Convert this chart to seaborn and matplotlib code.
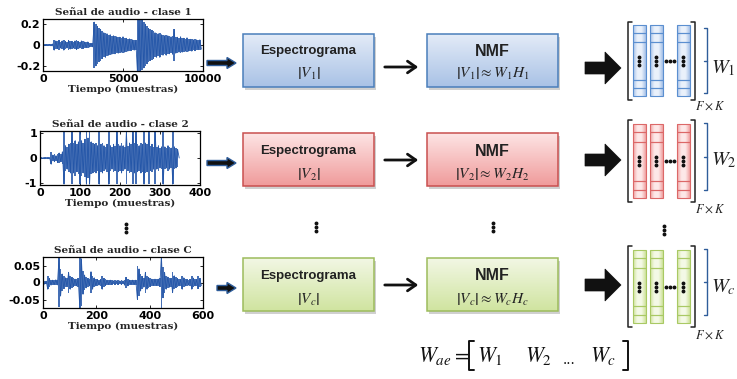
import numpy as np
import matplotlib
matplotlib.use("Agg")
import matplotlib.pyplot as plt
import matplotlib.colors as mcolors
from matplotlib.patches import Rectangle, FancyArrow
import seaborn as sns

sns.set_theme(style="white")
plt.rcParams["font.family"] = ["DejaVu Sans"]
plt.rcParams["mathtext.fontset"] = "stix"

# ---------------------------------------------------------------------------
# Waveform envelopes (peak amplitude per block of samples)
# ---------------------------------------------------------------------------
step1 = 100
amp1 = [0.005, 0.006, 0.005, 0.007, 0.006, 0.008, 0.01, 0.05, 0.04, 0.035,
        0.045, 0.03, 0.04, 0.05, 0.035, 0.03, 0.045, 0.04, 0.035, 0.03,
        0.04, 0.045, 0.035, 0.03, 0.04, 0.035, 0.03, 0.025, 0.03, 0.02,
        0.015, 0.018, 0.22, 0.2, 0.18, 0.16, 0.15, 0.13, 0.12, 0.12,
        0.11, 0.1, 0.1, 0.09, 0.09, 0.085, 0.08, 0.08, 0.075, 0.07,
        0.08, 0.07, 0.065, 0.06, 0.06, 0.055, 0.05, 0.05, 0.045, 0.26,
        0.26, 0.25, 0.24, 0.22, 0.2, 0.18, 0.16, 0.15, 0.14, 0.13,
        0.12, 0.12, 0.11, 0.12, 0.1, 0.1, 0.09, 0.1, 0.09, 0.085,
        0.08, 0.09, 0.15, 0.08, 0.075, 0.07, 0.08, 0.07, 0.065, 0.06,
        0.07, 0.06, 0.055, 0.06, 0.05, 0.055, 0.05, 0.045, 0.05, 0.04]

step2 = 4
amp2 = [0.02, 0.03, 0.02, 0.03, 0.02, 0.03, 0.02, 0.25, 0.12, 0.15,
        0.1, 0.18, 0.2, 0.15, 0.25, 1.05, 0.5, 0.45, 0.55, 0.6,
        1.05, 0.6, 0.7, 0.55, 0.65, 1.05, 0.7, 0.6, 0.75, 1.05,
        0.8, 1.05, 0.65, 0.6, 0.55, 0.6, 0.5, 1.05, 0.55, 0.6,
        0.5, 0.45, 0.55, 1.05, 0.5, 0.45, 0.55, 0.5, 1.05, 0.55,
        0.5, 0.6, 0.5, 0.45, 1.05, 0.5, 0.6, 0.55, 1.05, 0.6,
        1.05, 0.55, 0.5, 0.6, 0.55, 1.05, 0.6, 0.55, 1.05, 0.5,
        0.55, 0.45, 1.05, 0.45, 0.5, 0.4, 0.45, 1.05, 0.45, 0.4,
        0.5, 0.45, 0.4, 1.05, 0.45, 0.4, 0.35, 0.0]

step3 = 6
amp3 = [0.004, 0.005, 0.004, 0.02, 0.012, 0.008, 0.007, 0.006, 0.008, 0.007,
        0.072, 0.04, 0.025, 0.018, 0.014, 0.012, 0.03, 0.02, 0.015, 0.012,
        0.01, 0.01, 0.012, 0.075, 0.07, 0.035, 0.022, 0.016, 0.012, 0.01,
        0.032, 0.02, 0.014, 0.01, 0.009, 0.008, 0.009, 0.02, 0.012, 0.009,
        0.007, 0.006, 0.007, 0.006, 0.005, 0.006, 0.005, 0.006, 0.005, 0.006,
        0.005, 0.008, 0.015, 0.01, 0.007, 0.006, 0.007, 0.006, 0.007, 0.05,
        0.04, 0.025, 0.018, 0.014, 0.03, 0.02, 0.015, 0.012, 0.01, 0.009,
        0.01, 0.009, 0.01, 0.012, 0.08, 0.045, 0.03, 0.02, 0.016, 0.014,
        0.012, 0.03, 0.02, 0.015, 0.012, 0.01, 0.009, 0.02, 0.014, 0.01,
        0.009, 0.008, 0.009, 0.02, 0.013, 0.01, 0.009, 0.018, 0.012, 0.009]

titles = ["Señal de audio - clase 1", "Señal de audio - clase 2",
          "Señal de audio - clase C"]
xlabel_text = "Tiempo (muestras)"
xlims = [(0, 10000), (0, 400), (0, 600)]
xticks = [[0, 5000, 10000], [0, 100, 200, 300, 400], [0, 200, 400, 600]]
ylims = [(-0.25, 0.25), (-1.08, 1.08), (-0.075, 0.075)]
yticks = [[-0.2, 0, 0.2], [-1, 0, 1], [-0.05, 0, 0.05]]
yticklabels = [["-0.2", "0", "0.2"], ["-1", "0", "1"], ["-0.05", "0", "0.05"]]

# class labels used in the formulas
subs = ["1", "2", "c"]

W, H = 737, 379
fig = plt.figure(figsize=(W / 100, H / 100), dpi=100)
fig.patch.set_facecolor("white")

# canvas axes in pixel coordinates for the block diagram
cv = fig.add_axes([0, 0, 1, 1], zorder=0)
cv.set_axis_off()


def fig_rect(left, top, right, bottom):
    return [left / W, 1 - bottom / H, (right - left) / W, (bottom - top) / H]


wave_color = "#2456a8"
wave_boxes = [(43, 19, 203, 71), (40, 131, 200, 185), (43, 257, 203, 308)]
envelopes = [(amp1, step1), (amp2, step2), (amp3, step3)]

for k in range(3):
    ax = fig.add_axes(fig_rect(*wave_boxes[k]), zorder=2)
    amps, step = envelopes[k]
    amps = np.asarray(amps)
    n = len(amps)
    t = np.arange(n) * step
    sign = np.where(np.arange(n) % 2 == 0, 1.0, -1.0)
    # dense oscillation body
    ax.fill_between(t, -amps, amps, step="mid", color=wave_color, alpha=0.85,
                    lw=0)
    sns.lineplot(x=t, y=amps * sign, ax=ax, color=wave_color, lw=0.6,
                 sort=False, estimator=None)
    ax.set_xlim(*xlims[k])
    ax.set_ylim(*ylims[k])
    ax.set_xticks(xticks[k])
    ax.set_xticklabels([str(v) for v in xticks[k]], fontweight="bold", fontsize=8)
    ax.set_yticks(yticks[k])
    ax.set_yticklabels(yticklabels[k], fontweight="bold", fontsize=8)
    ax.tick_params(direction="in", length=2.5, width=0.6, top=True, right=True,
                   bottom=True, left=True, pad=2, colors="black")
    for s in ax.spines.values():
        s.set_color("black")
        s.set_linewidth(0.9)
    ax.set_facecolor("white")
    ax.set_title(titles[k], family="DejaVu Serif", fontweight="bold",
                 fontsize=7.5, pad=3)
    ax.set_xlabel(xlabel_text, family="DejaVu Serif", fontweight="bold",
                  fontsize=7.5, labelpad=1)
    ax.set_ylabel("")

# ---------------------------------------------------------------------------
# Block diagram
# ---------------------------------------------------------------------------
palettes = [
    dict(top="#e3ebf7", bot="#a9c2e6", edge="#4a7ebb",
         col_mid="#eaf1fb", col_side="#a6c1e8", col_edge="#5b8fd0"),
    dict(top="#fde4e4", bot="#f09b9b", edge="#c9504f",
         col_mid="#fde8e8", col_side="#f0a2a2", col_edge="#dc6868"),
    dict(top="#f2f7e4", bot="#d0e4a0", edge="#9dbc5c",
         col_mid="#f4f9e6", col_side="#cfe39c", col_edge="#a9c964"),
]

box_tops = [34, 133, 258]
box_h = 53
spec_x = (243, 374)
nmf_x = (427, 558)
text_y1 = [51, 151, 276]
text_y2 = [74, 175, 300]
flow_y = [67, 160, 285]
fat_y = [63, 163, 288]
fat_x0 = [207, 207, 217]
big_y = [68, 160, 285]
col_tb = [(25, 96), (124, 198), (250, 323)]
brk_tb = [(22, 100), (120, 202), (246, 327)]
brace_tb = [(28, 93), (123, 190), (249, 315)]
wlab_y = [68, 160, 287]
fk_y = [106, 209, 335]


def gradient_box(x0, x1, y0, y1, c_top, c_bot, edge):
    cv.add_patch(Rectangle((x0 + 2, y0 + 2.5), x1 - x0, y1 - y0,
                           fc="#7a7a7a", alpha=0.35, ec="none", zorder=1))
    cmap = mcolors.LinearSegmentedColormap.from_list("g", [c_top, c_bot])
    grad = np.linspace(0, 1, 64)[:, None]
    cv.imshow(grad, cmap=cmap, extent=(x0, x1, y1, y0), aspect="auto",
              zorder=2, interpolation="bilinear")
    cv.add_patch(Rectangle((x0, y0), x1 - x0, y1 - y0, fc="none", ec=edge,
                           lw=1.1, zorder=3))


def matrix_column(x0, x1, y0, y1, pal):
    cmap = mcolors.LinearSegmentedColormap.from_list(
        "c", [pal["col_side"], pal["col_mid"], pal["col_mid"], pal["col_side"]])
    grad = np.linspace(0, 1, 32)[None, :]
    cv.imshow(grad, cmap=cmap, extent=(x0, x1, y1, y0), aspect="auto",
              zorder=2, interpolation="bilinear")
    h = y1 - y0
    cuts = [0, 0.11, 0.24, 0.77, 0.89, 1.0]
    for a, b in zip(cuts[:-1], cuts[1:]):
        cv.add_patch(Rectangle((x0, y0 + a * h), x1 - x0, (b - a) * h,
                               fc="none", ec=pal["col_edge"], lw=0.8, zorder=3))
    cy = y0 + 0.5 * h
    xc = 0.5 * (x0 + x1)
    cv.plot([xc, xc, xc], [cy - 4, cy, cy + 4], "o", ms=1.8, color="#111",
            zorder=4)


for r in range(3):
    pal = palettes[r]
    y0 = box_tops[r]
    y1 = y0 + box_h
    gradient_box(spec_x[0], spec_x[1], y0, y1, pal["top"], pal["bot"], pal["edge"])
    gradient_box(nmf_x[0], nmf_x[1], y0, y1, pal["top"], pal["bot"], pal["edge"])
    sc = 0.5 * (spec_x[0] + spec_x[1])
    nc = 0.5 * (nmf_x[0] + nmf_x[1])
    s = subs[r]
    cv.text(sc, text_y1[r], "Espectrograma", family="Liberation Sans",
            fontweight="bold", fontsize=9.5, color="#222", ha="center",
            va="center", zorder=5)
    cv.text(sc, text_y2[r], r"$\left|V_{%s}\right|$" % s, fontsize=11,
            color="#222", ha="center", va="center", zorder=5)
    cv.text(nc, text_y1[r], "NMF", family="Liberation Sans", fontweight="bold",
            fontsize=11.5, color="#222", ha="center", va="center", zorder=5)
    cv.text(nc, text_y2[r], r"$\left|V_{%s}\right|\approx W_{%s}H_{%s}$" % (s, s, s),
            fontsize=11, color="#222", ha="center", va="center", zorder=5)

    # arrow between the two boxes
    cv.annotate("", xy=(421, flow_y[r]), xytext=(382, flow_y[r]),
                arrowprops=dict(arrowstyle="->,head_length=0.5,head_width=0.35",
                                lw=2.0, color="#111"), zorder=5)

    # arrow from the waveform to the spectrogram box
    cv.add_patch(FancyArrow(fat_x0[r], fat_y[r], 236 - fat_x0[r] - 9, 0,
                            width=5, head_width=11, head_length=9,
                            length_includes_head=False, fc="#111",
                            ec="#2f5d9a", lw=1.0, zorder=5))

    # big arrow to the basis matrix
    cv.add_patch(FancyArrow(585, big_y[r], 20, 0, width=12, head_width=32,
                            head_length=16, fc="#111", ec="#111", lw=0.5,
                            zorder=5))

    # basis matrix columns
    ct, cb = col_tb[r]
    for (xa, xb) in [(633, 646), (650, 663), (677, 690)]:
        matrix_column(xa, xb, ct, cb, pal)
    cmid = 0.5 * (ct + cb)
    cv.plot([666, 670, 674], [cmid] * 3, "o", ms=1.8, color="#111", zorder=4)

    # square brackets
    bt, bb = brk_tb[r]
    cv.plot([632, 628, 628, 632], [bt, bt, bb, bb], color="#222", lw=1.1, zorder=4)
    cv.plot([691, 695, 695, 691], [bt, bt, bb, bb], color="#222", lw=1.1, zorder=4)

    # brace with the matrix name
    rt, rb = brace_tb[r]
    rm = 0.5 * (rt + rb)
    cv.plot([704, 707, 707, 704], [rt, rt, rb, rb], color="#2f5d9a", lw=1.0, zorder=4)
    cv.plot([704, 707], [rm, rm], color="#2f5d9a", lw=1.0, zorder=4)
    cv.text(711, wlab_y[r], r"$W_{%s}$" % s, fontsize=14.5, color="#222",
            ha="left", va="center", zorder=5)
    cv.text(710, fk_y[r], r"$F\times K$", fontsize=9, color="#222",
            ha="center", va="center", zorder=5)

# vertical ellipses between the class rows
for (x, y) in [(126, 228), (316, 227), (493, 227), (664, 230)]:
    cv.plot([x, x, x], [y - 4, y, y + 4], "o", ms=1.8, color="#111", zorder=4)

# concatenated dictionary W_ae = [W_1 W_2 ... W_c]
fy = 356
cv.text(418, fy, r"$W_{ae}=$", fontsize=15.5, color="#111", ha="left",
        va="center", zorder=5)
# tall square brackets around the concatenation
cv.plot([474, 469, 469, 474], [341, 341, 370, 370], color="#111", lw=1.4,
        zorder=5)
cv.plot([623, 628, 628, 623], [341, 341, 370, 370], color="#111", lw=1.4,
        zorder=5)
cv.text(477, fy, r"$W_1$", fontsize=15.5, color="#111", ha="left",
        va="center", zorder=5)
cv.text(525, fy, r"$W_2$", fontsize=15.5, color="#111", ha="left",
        va="center", zorder=5)
cv.text(563, fy + 4, "...", family="DejaVu Serif", fontsize=10, color="#111",
        ha="left", va="center", zorder=5)
cv.text(590, fy, r"$W_c$", fontsize=15.5, color="#111", ha="left",
        va="center", zorder=5)

cv.set_xlim(0, W)
cv.set_ylim(H, 0)

fig.savefig("out.png", dpi=100, facecolor="white")
